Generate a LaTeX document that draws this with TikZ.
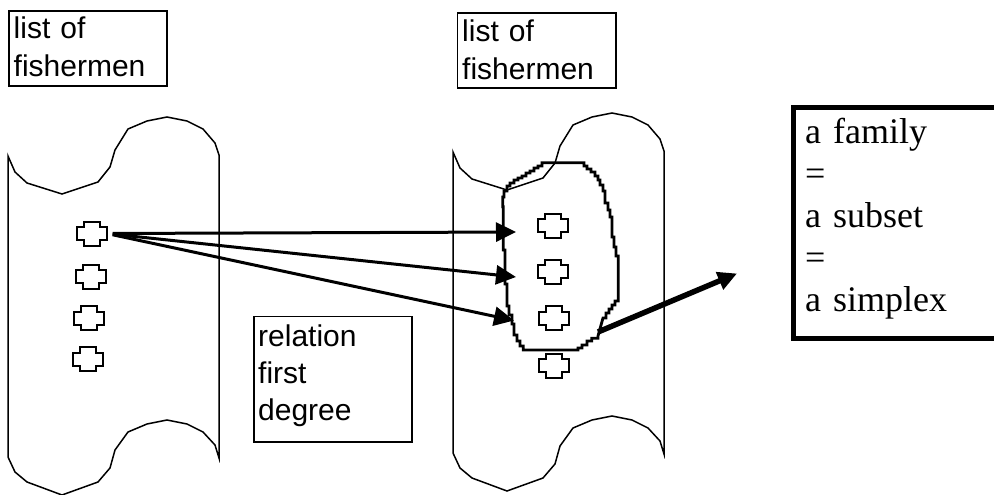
\documentclass[tikz,border=0pt]{standalone}
\usepackage{fontspec}
\setmainfont{Liberation Sans}
\newfontfamily\serifface{Liberation Serif}
\usetikzlibrary{arrows.meta}

\tikzset{
  thinline/.style={line width=1.5pt, line join=miter},
  framebox/.style={draw, line width=1.6pt, inner sep=0pt, anchor=north west},
  heavybox/.style={draw, line width=5pt, fill=white, inner sep=0pt, anchor=north west},
  sanslabel/.style={font=\fontsize{30}{38}\selectfont, inner sep=0pt, anchor=base west,
    text width=150pt, align=left},
  seriflabel/.style={font=\serifface\fontsize{36}{42.1}\selectfont, inner sep=0pt,
    anchor=base west, text width=180pt, align=left},
  crossbox/.style={inner sep=0pt, minimum width=30pt, minimum height=24pt},
  linkarrow/.style={line width=3pt, -{Triangle[length=20pt,width=19pt]}},
  heavyarrow/.style={line width=5.5pt, -{Triangle[length=19pt,width=18pt]}},
  blobline/.style={line width=2.8pt, line join=miter},
  % scroll-shaped sheet: wavy top and bottom edges
  scroll/.pic={
    \draw[thinline] (8,156) -- (15,172) -- (27,183) -- (62,194) -- (98,182) -- (110,167)
      -- (115,150) -- (128,129) -- (147,121) -- (167,117) -- (187,121) -- (203,129)
      -- (215,143) -- (219,155) -- (219,458) -- (215,445) -- (203,432) -- (187,424)
      -- (167,420) -- (147,424) -- (128,432) -- (115,450) -- (110,468) -- (98,482)
      -- (62,495) -- (27,482) -- (15,472) -- (8,457) -- cycle;
  },
  % small cross-shaped member marker
  cross/.pic={
    \draw[line width=2pt, line join=miter] (-8,-12) -- (8,-12) -- (8,-6.5) -- (15,-6.5)
      -- (15,6.5) -- (8,6.5) -- (8,12) -- (-8,12) -- (-8,6.5) -- (-15,6.5)
      -- (-15,-6.5) -- (-8,-6.5) -- cycle;
  }
}

\begin{document}
\begin{tikzpicture}[x=1pt, y=-1pt]
\useasboundingbox (0,0) rectangle (994,495);
\clip (0,0) rectangle (994,495);

% the two lists
\pic at (0,0) {scroll};
\pic at (445,-4) {scroll};

% members
\foreach \n/\px/\py in {l1/91.5/233.5, l2/91/276.5, l3/89/318, l4/88/359,
                        r1/552.5/225.5, r2/552.5/271.7, r3/554.3/318.3, r4/554.3/365.8} {
  \node[crossbox] (\n) at (\px,\py) {};
  \pic at (\n) {cross};
}

% the family as a subset of the second list (stepped outline)
\draw[blobline] (546.7,162.7) -- (581.7,162.7) -| (584,166) -| (587,169) -| (591,172)
  -| (595,176) -| (598,180) -| (600,185) -| (603,191) -| (605,203) -| (608,210)
  -| (610,217) -| (612,237) -| (614,247) -| (616,256) -| (618.3,296.7)
  |- (615,301) |- (612,305) |- (609,309) |- (606,313) |- (603,318) -- (598,336)
  |- (591.7,338.3) |- (587,341) |- (582,345) |- (578,348) |- (523.3,350)
  |- (520,346) |- (517,341) |- (514,335) |- (512,324) |- (509,315) |- (507,306)
  |- (505,284) |- (503.3,250) |- (502.7,206.7) |- (504,197) |- (507,191) |- (510,186)
  |- (514,183) |- (518,180) |- (522,178) |- (526,176) |- (530,173) |- (534,171)
  |- (538,168) |- (542,166) |- cycle;

% arrow ends on the family outline
\coordinate (h1) at (516,232);
\coordinate (h2) at (516,277);
\coordinate (h3) at (514,320.5);
\coordinate (bt) at (598,332);
\coordinate (tip) at (737,273.5);

\draw[linkarrow, shorten <=6pt] (l1.east) -- (h1);
\draw[linkarrow, shorten <=6pt] (l1.east) -- (h2);
\draw[linkarrow, shorten <=6pt] (l1.east) -- (h3);
\draw[heavyarrow] (bt) -- (tip);

% labels
\node[framebox, minimum width=158pt, minimum height=75.5pt] (b1) at (8,10) {};
\node[sanslabel] (t1) at (13.5,39) {list of\\fishermen};

\node[framebox, minimum width=158.5pt, minimum height=75pt] (b2) at (456.5,12) {};
\node[sanslabel] (t2) at (462,41.5) {list of\\fishermen};

\node[framebox, minimum width=158pt, minimum height=125.5pt] (b3) at (253,315.5) {};
\node[sanslabel, font=\fontsize{30}{37}\selectfont] (t3) at (258,346.5) {relation\\first\\degree};

\node[heavybox, minimum width=260pt, minimum height=230.5pt] (b4) at (791,105) {};
\node[seriflabel] (t4) at (805,143.3) {a family\\=\\a subset\\=\\a simplex};
\end{tikzpicture}
\end{document}
